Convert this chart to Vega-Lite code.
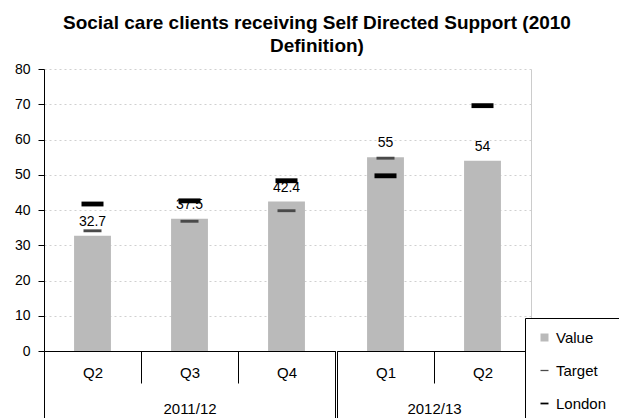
{
  "$schema": "https://vega.github.io/schema/vega-lite/v6.json",
  "padding": {"left": 14, "top": 14, "right": 0, "bottom": 0},
  "config": {
    "font": "Liberation Sans",
    "view": {"stroke": null},
    "axis": {"labelColor": "black", "labelFont": "Liberation Sans"}
  },
  "title": {
    "text": ["Social care clients receiving Self Directed Support (2010", "Definition)"],
    "fontSize": 19,
    "fontWeight": "bold",
    "font": "Liberation Sans",
    "color": "black",
    "anchor": "middle",
    "lineHeight": 23,
    "offset": 6
  },
  "data": {
    "values": [
      {"year": "2011/12", "quarter": "Q2", "series": "Value", "value": 32.7},
      {"year": "2011/12", "quarter": "Q2", "series": "Target", "value": 34.1},
      {"year": "2011/12", "quarter": "Q2", "series": "London", "value": 41.7},
      {"year": "2011/12", "quarter": "Q3", "series": "Value", "value": 37.5},
      {"year": "2011/12", "quarter": "Q3", "series": "Target", "value": 36.8},
      {"year": "2011/12", "quarter": "Q3", "series": "London", "value": 42.6},
      {"year": "2011/12", "quarter": "Q4", "series": "Value", "value": 42.4},
      {"year": "2011/12", "quarter": "Q4", "series": "Target", "value": 39.8},
      {"year": "2011/12", "quarter": "Q4", "series": "London", "value": 48.3},
      {"year": "2012/13", "quarter": "Q1", "series": "Value", "value": 55},
      {"year": "2012/13", "quarter": "Q1", "series": "Target", "value": 54.7},
      {"year": "2012/13", "quarter": "Q1", "series": "London", "value": 49.7},
      {"year": "2012/13", "quarter": "Q2", "series": "Value", "value": 54},
      {"year": "2012/13", "quarter": "Q2", "series": "London", "value": 69.6}
    ]
  },
  "spacing": 0,
  "resolve": {"scale": {"x": "independent"}, "axis": {"y": "independent"}},
  "hconcat": [
    {
      "width": 291,
      "height": 282,
      "transform": [{"filter": "datum.year === '2011/12'"}],
      "resolve": {"scale": {"x": "independent"}},
      "layer": [
        {
          "encoding": {
            "x": {"field": "quarter", "type": "nominal", "scale": {"type": "band", "paddingInner": 0, "paddingOuter": 0},
              "axis": {"orient": "bottom", "title": null, "domain": true, "domainColor": "black", "grid": false, "ticks": true, "tickBand": "extent", "tickSize": 32, "tickColor": "black", "labelPadding": -18, "labelFontSize": 15, "labelAngle": 0}},
            "y": {"field": "value", "type": "quantitative", "scale": {"domain": [0, 80], "nice": false},
              "axis": {"orient": "left", "title": null, "values": [0, 10, 20, 30, 40, 50, 60, 70, 80], "tickCount": 12, "labelOverlap": false, "domainColor": "black", "tickColor": "black", "tickSize": 6, "labelPadding": 8, "labelFontSize": 14, "grid": true, "gridColor": "#d0d0d0", "gridDash": [2, 3]}}
          },
          "layer": [
            {
              "mark": {"type": "bar", "width": {"band": 0.38}},
              "transform": [{"filter": "datum.series === 'Value'"}],
              "encoding": {
                "color": {"field": "series", "type": "nominal",
                  "scale": {"domain": ["Value", "Target", "London"], "range": ["#bababa", "#4a4a4a", "#000000"]},
                  "legend": {"orient": "none", "legendX": 481, "legendY": 249, "title": null, "fillColor": "white", "strokeColor": "black", "padding": 12, "rowPadding": 17, "labelFontSize": 15, "labelColor": "black", "symbolSize": 64, "labelOffset": 4, "symbolStrokeWidth": 0}}
              }
            },
            {
              "mark": {"type": "point", "filled": true, "opacity": 1, "size": 324},
              "transform": [{"filter": "datum.series === 'Target'"}],
              "encoding": {
                "color": {"field": "series", "type": "nominal"},
                "shape": {"field": "series", "type": "nominal", "scale": {"domain": ["Value", "Target", "London"], "range": ["square", "M-1,-0.16H1V0.16H-1Z", "M-1,-0.22H1V0.22H-1Z"]}}
              }
            },
            {
              "mark": {"type": "point", "filled": true, "opacity": 1, "size": 484},
              "transform": [{"filter": "datum.series === 'London'"}],
              "encoding": {
                "color": {"field": "series", "type": "nominal"},
                "shape": {"field": "series", "type": "nominal"}
              }
            },
            {
              "mark": {"type": "text", "dy": -14, "fontSize": 14, "baseline": "middle", "color": "black"},
              "transform": [{"filter": "datum.series === 'Value'"}],
              "encoding": {
                "text": {"field": "value", "type": "nominal"}
              }
            }
          ]
        },
        {
          "mark": {"type": "rule", "opacity": 0},
          "encoding": {
            "x": {"field": "year", "type": "nominal", "scale": {"type": "band", "paddingInner": 0, "paddingOuter": 0},
              "axis": {"orient": "bottom", "title": null, "domain": false, "grid": false, "ticks": true, "tickBand": "extent", "tickSize": 67, "tickColor": "black", "labelPadding": -17, "labelFontSize": 15, "labelAngle": 0}}
          }
        }
      ]
    },
    {
      "width": 194,
      "height": 282,
      "transform": [{"filter": "datum.year === '2012/13'"}],
      "resolve": {"scale": {"x": "independent"}},
      "layer": [
        {
          "encoding": {
            "x": {"field": "quarter", "type": "nominal", "scale": {"type": "band", "paddingInner": 0, "paddingOuter": 0},
              "axis": {"orient": "bottom", "title": null, "domain": true, "domainColor": "black", "grid": false, "ticks": true, "tickBand": "extent", "tickSize": 32, "tickColor": "black", "labelPadding": -18, "labelFontSize": 15, "labelAngle": 0}},
            "y": {"field": "value", "type": "quantitative", "scale": {"domain": [0, 80], "nice": false},
              "axis": {"orient": "right", "title": null, "values": [0, 10, 20, 30, 40, 50, 60, 70, 80], "tickCount": 12, "labels": false, "ticks": false, "domain": true, "domainColor": "#cccccc", "grid": true, "gridColor": "#d0d0d0", "gridDash": [2, 3]}}
          },
          "layer": [
            {
              "mark": {"type": "bar", "width": {"band": 0.38}},
              "transform": [{"filter": "datum.series === 'Value'"}],
              "encoding": {
                "color": {"field": "series", "type": "nominal"}
              }
            },
            {
              "mark": {"type": "point", "filled": true, "opacity": 1, "size": 324},
              "transform": [{"filter": "datum.series === 'Target'"}],
              "encoding": {
                "color": {"field": "series", "type": "nominal"},
                "shape": {"field": "series", "type": "nominal"}
              }
            },
            {
              "mark": {"type": "point", "filled": true, "opacity": 1, "size": 484},
              "transform": [{"filter": "datum.series === 'London'"}],
              "encoding": {
                "color": {"field": "series", "type": "nominal"},
                "shape": {"field": "series", "type": "nominal"}
              }
            },
            {
              "mark": {"type": "text", "dy": -14, "fontSize": 14, "baseline": "middle", "color": "black"},
              "transform": [{"filter": "datum.series === 'Value'"}],
              "encoding": {
                "text": {"field": "value", "type": "nominal"}
              }
            }
          ]
        },
        {
          "mark": {"type": "rule", "opacity": 0},
          "encoding": {
            "x": {"field": "year", "type": "nominal", "scale": {"type": "band", "paddingInner": 0, "paddingOuter": 0},
              "axis": {"orient": "bottom", "title": null, "domain": false, "grid": false, "ticks": true, "tickBand": "extent", "tickSize": 67, "tickColor": "black", "labelPadding": -17, "labelFontSize": 15, "labelAngle": 0}}
          }
        }
      ]
    }
  ]
}
